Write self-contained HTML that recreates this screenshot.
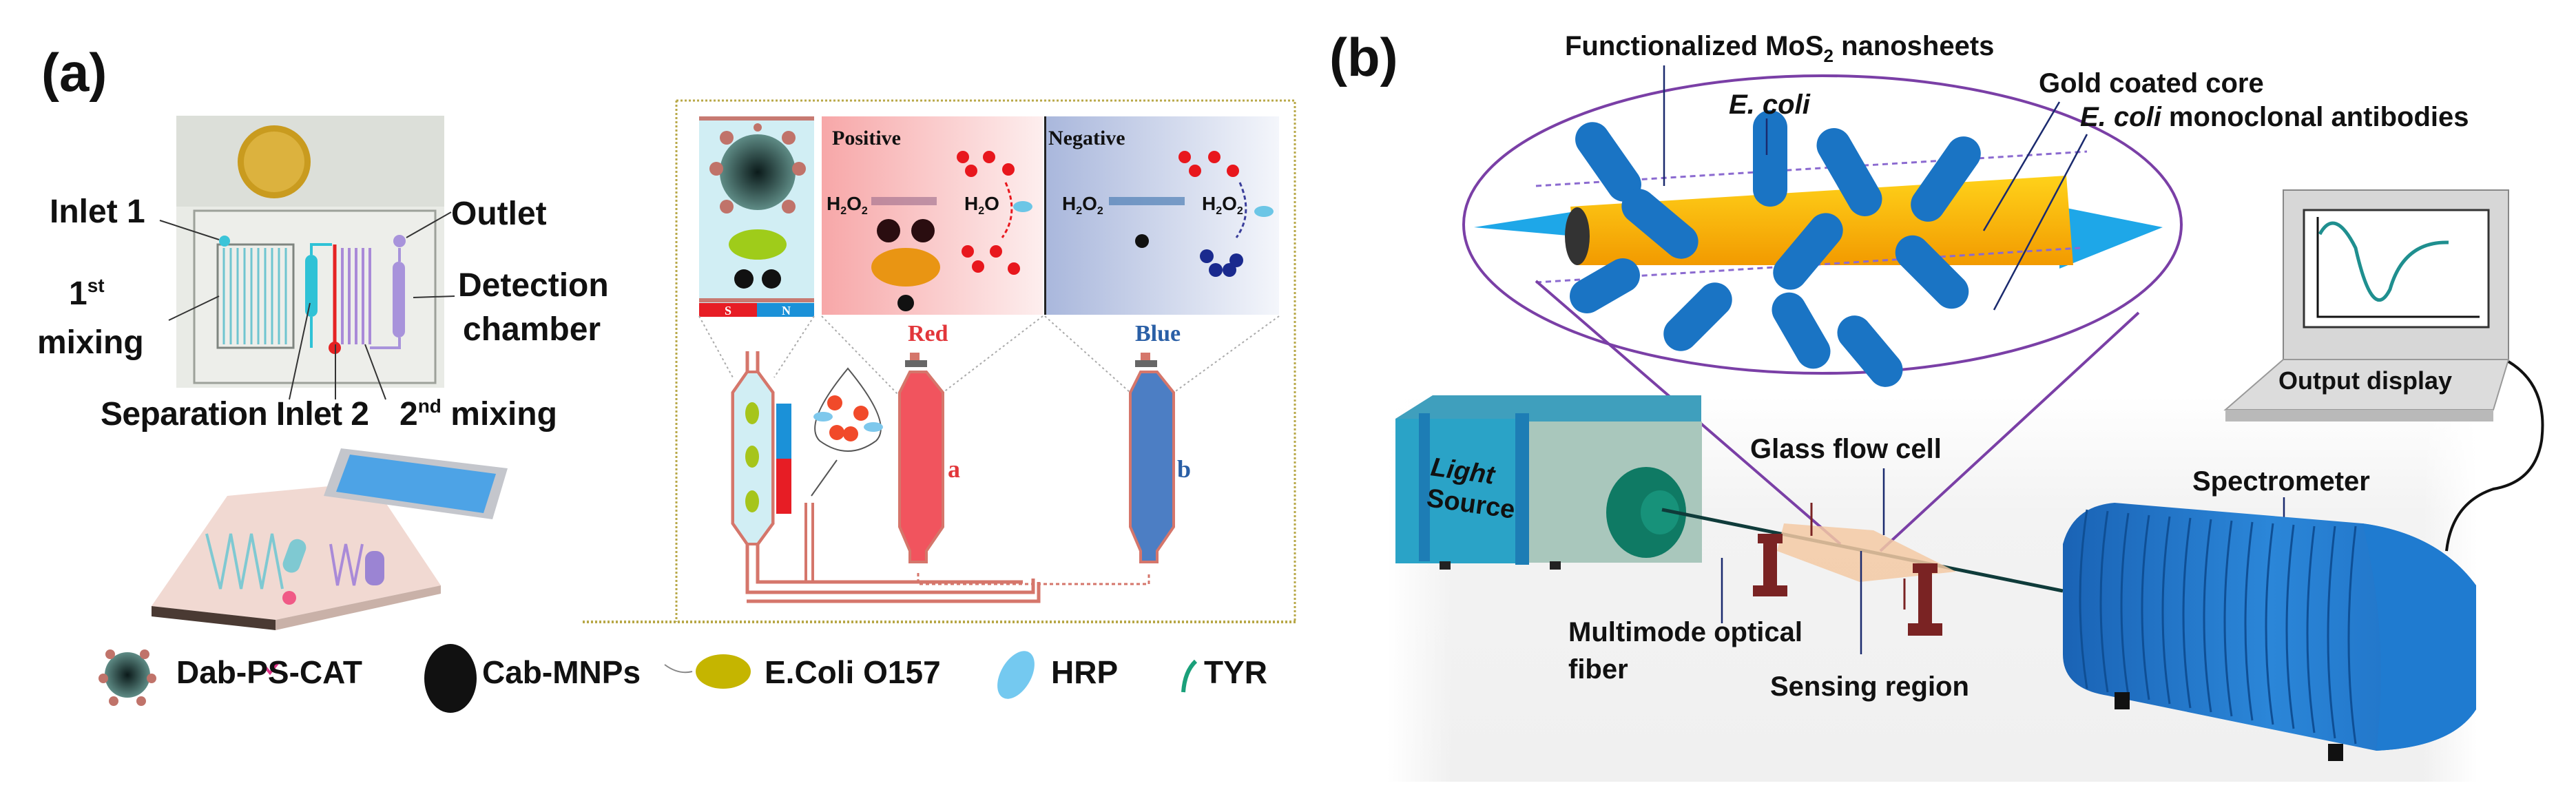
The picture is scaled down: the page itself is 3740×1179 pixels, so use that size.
<!DOCTYPE html>
<html><head><meta charset="utf-8"><style>
html,body{margin:0;padding:0;background:#fff;}
svg{display:block;}
text{font-family:"Liberation Sans",Arial,sans-serif;font-weight:bold;fill:#111;}
.s{font-family:"Liberation Serif",serif;font-weight:bold;}
</style></head><body>
<svg width="3740" height="1179" viewBox="0 0 3740 1179" xmlns="http://www.w3.org/2000/svg">
<defs>
<linearGradient id="pos" x1="0" x2="1"><stop offset="0" stop-color="#f7a7a8"/><stop offset="1" stop-color="#fdeeee"/></linearGradient>
<linearGradient id="neg" x1="0" x2="1"><stop offset="0" stop-color="#a9b7dc"/><stop offset="1" stop-color="#f4f6fb"/></linearGradient>
<radialGradient id="ball"><stop offset="0" stop-color="#0b1a1a"/><stop offset="1" stop-color="#5f8c86"/></radialGradient>
<linearGradient id="bg" x1="0" y1="0" x2="0" y2="1"><stop offset="0" stop-color="#ffffff"/><stop offset="0.3" stop-color="#f3f3f3"/><stop offset="1" stop-color="#f0f0f0"/></linearGradient>
<linearGradient id="bgx" x1="0" x2="1"><stop offset="0" stop-color="#fff" stop-opacity="1"/><stop offset="0.06" stop-color="#fff" stop-opacity="0"/><stop offset="0.95" stop-color="#fff" stop-opacity="0"/><stop offset="1" stop-color="#fff" stop-opacity="1"/></linearGradient>
<linearGradient id="spec" x1="0" x2="1"><stop offset="0" stop-color="#1a63b5"/><stop offset="0.5" stop-color="#2b86d8"/><stop offset="1" stop-color="#1c6cc0"/></linearGradient>
<linearGradient id="gold" x1="0" y1="0" x2="0" y2="1"><stop offset="0" stop-color="#ffd21a"/><stop offset="1" stop-color="#f29a00"/></linearGradient>
</defs>

<!-- ===== Panel (a) ===== -->
<text x="60" y="132" font-size="78">(a)</text>

<rect x="256" y="168" width="389" height="395" fill="#dcdfd9"/>
<rect x="256" y="300" width="389" height="263" fill="#e9ebe6"/>
<circle cx="398" cy="235" r="53" fill="#c99b1f"/>
<circle cx="398" cy="235" r="44" fill="#dcb23e"/>
<rect x="282" y="306" width="350" height="250" fill="#edeeea" stroke="#9da19a" stroke-width="3"/>
<rect x="316" y="355" width="110" height="150" fill="none" stroke="#7f8580" stroke-width="3"/>
<path d="M325 360 v140 M335 360 v140 M345 360 v140 M355 360 v140 M365 360 v140 M375 360 v140 M385 360 v140 M395 360 v140 M405 360 v140 M415 360 v140" stroke="#6fc5d0" stroke-width="3"/>
<circle cx="326" cy="350" r="8" fill="#3cc4d8"/>
<rect x="443" y="370" width="18" height="90" rx="9" fill="#2fc2d6"/>
<path d="M452 460 v45 M452 370 v-15 h30" stroke="#2fc2d6" stroke-width="4" fill="none"/>
<path d="M486 355 v150" stroke="#e52222" stroke-width="5"/>
<circle cx="486" cy="505" r="9" fill="#e52222"/>
<path d="M497 360 v140 M507 360 v140 M517 360 v140 M527 360 v140 M537 360 v140" stroke="#a98ad8" stroke-width="4"/>
<rect x="570" y="380" width="18" height="110" rx="9" fill="#a893db"/>
<circle cx="580" cy="350" r="9" fill="#a893db"/>
<path d="M580 360 v20 M580 490 v15 h-43" stroke="#a893db" stroke-width="4" fill="none"/>

<g font-size="48">
<text x="72" y="323">Inlet 1</text>
<text x="655" y="326">Outlet</text>
<text x="665" y="430">Detection</text>
<text x="672" y="494">chamber</text>
<text x="100" y="442">1<tspan font-size="28" dy="-18">st</tspan></text>
<text x="54" y="513">mixing</text>
<text x="146" y="617" textLength="390">Separation Inlet 2</text>
<text x="580" y="617">2<tspan font-size="28" dy="-18">nd</tspan><tspan dy="18"> mixing</tspan></text>
</g>
<g stroke="#333" stroke-width="2" fill="none">
<path d="M232 320 L318 348"/><path d="M655 308 L590 345"/><path d="M660 430 L600 432"/>
<path d="M245 465 L318 430"/><path d="M420 580 L450 440"/><path d="M487 580 L487 500"/><path d="M560 580 L530 500"/>
</g>

<polygon points="330,720 540,700 640,850 400,900 220,880" fill="#f1d9d2"/>
<polygon points="220,880 400,900 400,915 220,895" fill="#4a3a33"/>
<polygon points="400,900 640,850 640,862 400,915" fill="#c9b1a8"/>
<path d="M300 775 l20 80 l15 -80 l15 80 l15 -80 l15 80 l15 -80 l15 80" stroke="#7fc9d2" stroke-width="4" fill="none"/>
<rect x="415" y="782" width="25" height="50" rx="12" fill="#7fc9d2" transform="rotate(20 427 807)"/>
<path d="M480 790 l10 60 l12 -60 l12 60 l12 -60" stroke="#a98ad8" stroke-width="4" fill="none"/>
<rect x="530" y="800" width="28" height="50" rx="12" fill="#9b84d3"/>
<circle cx="420" cy="868" r="10" fill="#f05a86"/>
<polygon points="495,651 737,680 715,754 470,720" fill="#c4c6cc"/>
<polygon points="508,660 720,688 702,745 488,714" fill="#4da3e6"/>

<path d="M982 146 H1880 V903 M982 146 V903" stroke="#b8a848" stroke-width="3" stroke-dasharray="3 3" fill="none"/>
<path d="M846 903 H1884" stroke="#b8a848" stroke-width="4" stroke-dasharray="3 3"/>

<rect x="1015" y="169" width="167" height="290" fill="#d1eef4"/>
<rect x="1015" y="169" width="167" height="6" fill="#c77a72"/>
<rect x="1015" y="433" width="167" height="6" fill="#c77a72"/>
<rect x="1015" y="440" width="84" height="20" fill="#e71d25"/>
<rect x="1099" y="440" width="83" height="20" fill="#1b91d8"/>
<text x="1052" y="457" class="s" font-size="18" style="fill:#fff">S</text>
<text x="1135" y="457" class="s" font-size="18" style="fill:#fff">N</text>
<circle cx="1100" cy="250" r="55" fill="url(#ball)"/>
<g fill="#c0736a"><circle cx="1055" cy="200" r="10"/><circle cx="1145" cy="200" r="10"/><circle cx="1040" cy="245" r="10"/><circle cx="1160" cy="245" r="10"/><circle cx="1055" cy="300" r="10"/><circle cx="1145" cy="300" r="10"/><circle cx="1100" cy="185" r="6"/></g>
<ellipse cx="1100" cy="355" rx="42" ry="22" fill="#9fcc1a"/>
<circle cx="1080" cy="405" r="14" fill="#111"/><circle cx="1120" cy="405" r="14" fill="#111"/>

<rect x="1193" y="169" width="321" height="288" fill="url(#pos)"/>
<text x="1208" y="210" class="s" font-size="30">Positive</text>
<text x="1200" y="305" font-size="28">H<tspan font-size="16" dy="6">2</tspan><tspan dy="-6">O</tspan><tspan font-size="16" dy="6">2</tspan></text>
<rect x="1265" y="286" width="95" height="12" fill="#9a6a8a" opacity="0.6"/>
<text x="1400" y="305" font-size="28">H<tspan font-size="16" dy="6">2</tspan><tspan dy="-6">O</tspan></text>
<ellipse cx="1485" cy="300" rx="14" ry="8" fill="#6cc6e6"/>
<circle cx="1290" cy="335" r="17" fill="#2a0d10"/><circle cx="1340" cy="335" r="17" fill="#2a0d10"/>
<ellipse cx="1315" cy="388" rx="50" ry="28" fill="#e99513"/>
<circle cx="1315" cy="440" r="12" fill="#111"/>
<g fill="#e8171d"><circle cx="1398" cy="228" r="9"/><circle cx="1436" cy="228" r="9"/><circle cx="1410" cy="248" r="9"/><circle cx="1464" cy="246" r="9"/><circle cx="1405" cy="365" r="9"/><circle cx="1446" cy="365" r="9"/><circle cx="1420" cy="387" r="9"/><circle cx="1472" cy="390" r="9"/></g>
<path d="M1460 265 Q1480 310 1455 345" stroke="#e8171d" stroke-width="3" stroke-dasharray="6 4" fill="none"/>

<rect x="1517" y="169" width="340" height="288" fill="url(#neg)"/>
<rect x="1516" y="169" width="3" height="288" fill="#222"/>
<text x="1522" y="210" class="s" font-size="30">Negative</text>
<text x="1542" y="305" font-size="28">H<tspan font-size="16" dy="6">2</tspan><tspan dy="-6">O</tspan><tspan font-size="16" dy="6">2</tspan></text>
<rect x="1610" y="286" width="110" height="12" fill="#4e7fb5" opacity="0.7"/>
<text x="1745" y="305" font-size="28">H<tspan font-size="16" dy="6">2</tspan><tspan dy="-6">O</tspan><tspan font-size="16" dy="6">2</tspan></text>
<ellipse cx="1835" cy="307" rx="14" ry="8" fill="#6cc6e6"/>
<circle cx="1658" cy="350" r="10" fill="#111"/>
<g fill="#e8171d"><circle cx="1720" cy="228" r="9"/><circle cx="1763" cy="228" r="9"/><circle cx="1735" cy="248" r="9"/><circle cx="1790" cy="248" r="9"/></g>
<g fill="#1a2a8e"><circle cx="1752" cy="372" r="10"/><circle cx="1795" cy="378" r="10"/><circle cx="1765" cy="392" r="10"/><circle cx="1785" cy="392" r="10"/></g>
<path d="M1800 265 Q1820 310 1795 345" stroke="#3a3e9a" stroke-width="3" stroke-dasharray="6 4" fill="none"/>

<text x="1318" y="495" class="s" font-size="34" style="fill:#e2363a">Red</text>
<text x="1648" y="495" class="s" font-size="34" style="fill:#2a5fa6">Blue</text>

<g stroke="#aaa" stroke-width="2" stroke-dasharray="3 4" fill="none">
<path d="M1015 459 L1064 548"/><path d="M1182 459 L1124 548"/>
<path d="M1193 459 L1306 575"/><path d="M1514 459 L1369 570"/>
<path d="M1517 459 L1641 570"/><path d="M1857 459 L1704 570"/>
</g>

<path d="M1085 510 V540 L1064 570 V760 L1085 790 V860 H1500 V840 M1100 510 V540 L1122 570 V760 L1100 790 V845 H1485" stroke="#d5766b" stroke-width="5" fill="none"/>
<polygon points="1085,540 1100,540 1122,570 1122,760 1100,790 1085,790 1064,760 1064,570" fill="#d1eef4" stroke="#d5766b" stroke-width="4"/>
<g fill="#a6c51b"><ellipse cx="1092" cy="600" rx="10" ry="16"/><ellipse cx="1092" cy="663" rx="10" ry="16"/><ellipse cx="1092" cy="728" rx="10" ry="16"/></g>
<rect x="1127" y="586" width="22" height="80" fill="#1b91d8"/>
<rect x="1127" y="666" width="22" height="80" fill="#e71d25"/>
<path d="M1170 843 V730 M1180 843 V730" stroke="#d5766b" stroke-width="4"/>
<path d="M1084 873 H1508 V845" stroke="#d5766b" stroke-width="5" fill="none"/>
<path d="M1231 535 Q1165 615 1190 640 Q1231 670 1272 640 Q1297 615 1231 535 Z" fill="#fff" stroke="#555" stroke-width="2"/>
<g fill="#f14a2a"><circle cx="1212" cy="585" r="11"/><circle cx="1250" cy="600" r="11"/><circle cx="1215" cy="628" r="11"/><circle cx="1235" cy="630" r="11"/></g>
<ellipse cx="1195" cy="605" rx="14" ry="7" fill="#7ec8ec"/><ellipse cx="1268" cy="620" rx="14" ry="7" fill="#7ec8ec"/>
<path d="M1215 668 L1178 720" stroke="#555" stroke-width="2"/>

<rect x="1321" y="512" width="14" height="20" fill="#d5766b"/>
<rect x="1314" y="523" width="32" height="10" fill="#666"/>
<polygon points="1321,540 1345,540 1369,570 1369,765 1345,800 1345,816 1321,816 1321,800 1306,765 1306,570" fill="#f1545e" stroke="#d5766b" stroke-width="4"/>
<text x="1376" y="693" class="s" font-size="36" style="fill:#e2363a">a</text>
<rect x="1656" y="512" width="14" height="20" fill="#d5766b"/>
<rect x="1648" y="523" width="32" height="10" fill="#666"/>
<polygon points="1656,540 1680,540 1704,570 1704,765 1680,800 1680,816 1656,816 1656,800 1641,765 1641,570" fill="#4c7ec4" stroke="#d5766b" stroke-width="4"/>
<text x="1709" y="693" class="s" font-size="36" style="fill:#2a5fa6">b</text>
<path d="M1333 832 V848 H1668 V832" stroke="#d5766b" stroke-width="3" stroke-dasharray="5 4" fill="none"/>

<circle cx="185" cy="980" r="33" fill="url(#ball)"/>
<g fill="#c0736a"><circle cx="160" cy="950" r="7"/><circle cx="210" cy="950" r="7"/><circle cx="150" cy="985" r="7"/><circle cx="220" cy="985" r="7"/><circle cx="165" cy="1018" r="7"/><circle cx="205" cy="1018" r="7"/></g>
<path d="M380 962 l12 15 l12 -15" stroke="#e0358a" stroke-width="4" fill="none"/>
<ellipse cx="654" cy="985" rx="38" ry="50" fill="#111"/>
<path d="M965 965 q20 15 40 10" stroke="#888" stroke-width="2" fill="none"/>
<ellipse cx="1050" cy="975" rx="40" ry="25" fill="#c5b500"/>
<ellipse cx="1475" cy="980" rx="22" ry="38" fill="#74c9f0" transform="rotate(30 1475 980)"/>
<path d="M1718 1005 q2 -30 18 -45" stroke="#1aa07a" stroke-width="6" fill="none"/>
<g font-size="46">
<text x="256" y="992">Dab-PS-CAT</text>
<text x="700" y="992">Cab-MNPs</text>
<text x="1110" y="992">E.Coli O157</text>
<text x="1526" y="992">HRP</text>
<text x="1748" y="992">TYR</text>
</g>

<!-- ===== Panel (b) ===== -->
<text x="1930" y="110" font-size="78">(b)</text>
<rect x="2014" y="575" width="1583" height="560" fill="url(#bg)"/>
<rect x="2014" y="575" width="1583" height="560" fill="url(#bgx)"/>

<ellipse cx="2646" cy="326" rx="521" ry="216" fill="#fff" stroke="#7a3fa6" stroke-width="4"/>
<polygon points="2140,330 2300,305 2310,345" fill="#1ea7e8"/>
<polygon points="3140,330 2990,300 2990,390" fill="#1ea7e8"/>
<polygon points="2280,300 3000,255 3010,385 2290,385" fill="url(#gold)"/>
<ellipse cx="2290" cy="343" rx="18" ry="42" fill="#333"/>
<path d="M2230 270 L3030 220 M2230 410 L3020 360" stroke="#8b6ad0" stroke-width="3" stroke-dasharray="8 6"/>
<g fill="#1a74c4">
<rect x="2310" y="170" width="50" height="130" rx="25" transform="rotate(-35 2335 235)"/>
<rect x="2545" y="160" width="50" height="140" rx="25"/>
<rect x="2660" y="180" width="50" height="140" rx="25" transform="rotate(-30 2685 250)"/>
<rect x="2800" y="190" width="50" height="140" rx="25" transform="rotate(35 2825 260)"/>
<rect x="2385" y="260" width="50" height="130" rx="25" transform="rotate(-50 2410 325)"/>
<rect x="2600" y="300" width="50" height="130" rx="25" transform="rotate(40 2625 365)"/>
<rect x="2780" y="330" width="50" height="130" rx="25" transform="rotate(-45 2805 395)"/>
<rect x="2305" y="360" width="50" height="110" rx="25" transform="rotate(60 2330 415)"/>
<rect x="2440" y="400" width="50" height="120" rx="25" transform="rotate(45 2465 460)"/>
<rect x="2590" y="420" width="50" height="120" rx="25" transform="rotate(-30 2615 480)"/>
<rect x="2690" y="450" width="50" height="120" rx="25" transform="rotate(-40 2715 510)"/>
</g>
<g font-size="40">
<text x="2272" y="80">Functionalized MoS<tspan font-size="26" dy="10">2</tspan><tspan dy="-10"> nanosheets</tspan></text>
<text x="2960" y="134">Gold coated core</text>
<text x="3020" y="183"><tspan font-style="italic">E. coli</tspan> monoclonal antibodies</text>
<text x="2510" y="165" font-style="italic">E. coli</text>
</g>
<g stroke="#1a2a6e" stroke-width="2.5">
<path d="M2416 95 V270"/><path d="M2565 172 V225"/><path d="M2990 148 L2880 335"/><path d="M3030 195 L2895 450"/>
</g>
<path d="M2230 408 L2672 790 M3105 454 L2730 800" stroke="#7a3fa6" stroke-width="4"/>

<rect x="3315" y="276" width="327" height="246" fill="#d7d7d7" stroke="#888" stroke-width="2"/>
<rect x="3345" y="305" width="268" height="170" fill="#fff" stroke="#333" stroke-width="3"/>
<path d="M3365 315 V460 H3600" stroke="#111" stroke-width="3" fill="none"/>
<path d="M3368 340 Q3390 300 3420 360 Q3445 470 3470 420 Q3490 350 3555 352" stroke="#1f8f8f" stroke-width="5" fill="none"/>
<polygon points="3315,522 3642,522 3620,595 3231,595" fill="#dcdcdc" stroke="#999" stroke-width="2"/>
<polygon points="3231,595 3620,595 3620,612 3231,612" fill="#b9b9b9"/>
<text x="3308" y="565" font-size="36">Output display</text>
<path d="M3642 525 Q3700 560 3690 640 Q3680 700 3620 710 Q3560 730 3552 800" stroke="#111" stroke-width="4" fill="none"/>

<polygon points="2026,608 2080,574 2470,574 2470,620 2212,620" fill="#3f9fbd"/>
<rect x="2026" y="608" width="186" height="210" fill="#2aa3c7"/>
<rect x="2212" y="612" width="259" height="205" fill="#a9c7bc"/>
<rect x="2200" y="600" width="20" height="220" fill="#1d7db5"/>
<rect x="2060" y="600" width="16" height="215" fill="#1d7db5"/>
<ellipse cx="2390" cy="744" rx="58" ry="66" fill="#0f7a64"/>
<ellipse cx="2410" cy="744" rx="28" ry="32" fill="#17927a"/>
<text x="2076" y="690" font-size="38" font-style="italic" transform="rotate(8 2076 690)">Light</text>
<text x="2070" y="735" font-size="38" transform="rotate(8 2070 735)">Source</text>
<rect x="2090" y="815" width="16" height="12" fill="#222"/><rect x="2250" y="815" width="16" height="12" fill="#222"/>

<path d="M2413 740 L2995 858" stroke="#0f3b3a" stroke-width="5"/>
<polygon points="2590,760 2720,770 2840,830 2700,845 2580,800" fill="#f3c9a3" opacity="0.85"/>
<g fill="#7a2323">
<rect x="2560" y="775" width="20" height="85"/><rect x="2545" y="850" width="50" height="16"/><rect x="2552" y="775" width="36" height="14"/>
<rect x="2785" y="818" width="20" height="95"/><rect x="2770" y="905" width="50" height="18"/><rect x="2777" y="818" width="36" height="14"/>
</g>
<g stroke="#1a2a6e" stroke-width="2.5">
<path d="M2735 777 V680"/><path d="M2500 810 V905"/><path d="M2702 800 V950"/><path d="M3316 722 V770"/>
</g>
<path d="M2630 778 V730" stroke="#7a2323" stroke-width="3"/>
<path d="M2765 840 V885" stroke="#7a2323" stroke-width="3"/>

<path d="M2995 790 Q3010 735 3070 730 L3430 760 Q3540 775 3595 850 V1030 Q3560 1085 3450 1090 L3060 1010 Q2995 1000 2995 950 Z" fill="url(#spec)"/>
<path d="M3430 760 Q3540 775 3595 850 V1030 Q3560 1085 3450 1090 Q3470 920 3430 760 Z" fill="#1f7bd0"/>
<g stroke="#0f4f95" stroke-width="3" fill="none">
<path d="M3030 740 Q3010 870 3030 1000"/><path d="M3060 742 Q3040 875 3060 1005"/><path d="M3090 745 Q3070 880 3090 1010"/><path d="M3120 748 Q3100 885 3120 1016"/><path d="M3150 750 Q3130 890 3150 1022"/><path d="M3180 752 Q3160 895 3180 1028"/><path d="M3210 754 Q3190 900 3210 1034"/><path d="M3240 756 Q3220 905 3240 1040"/><path d="M3270 758 Q3250 910 3270 1046"/><path d="M3300 760 Q3280 915 3300 1052"/><path d="M3330 762 Q3310 920 3330 1058"/><path d="M3360 764 Q3340 925 3360 1064"/><path d="M3390 764 Q3370 930 3390 1072"/><path d="M3420 764 Q3400 935 3420 1080"/>
</g>
<rect x="3070" y="1005" width="22" height="25" fill="#111"/><rect x="3380" y="1080" width="22" height="25" fill="#111"/>

<g font-size="40">
<text x="2541" y="665">Glass flow cell</text>
<text x="3183" y="712">Spectrometer</text>
<text x="2277" y="931">Multimode optical</text>
<text x="2277" y="985">fiber</text>
<text x="2570" y="1010">Sensing region</text>
</g>
</svg>
</body></html>
